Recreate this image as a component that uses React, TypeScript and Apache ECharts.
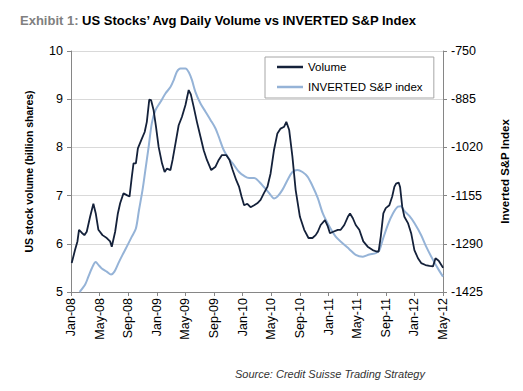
import React, { useEffect, useRef } from "react";
import * as echarts from "echarts";

const xTickLabels = [
  "Jan-08", "May-08", "Sep-08", "Jan-09", "May-09", "Sep-09", "Jan-10",
  "May-10", "Sep-10", "Jan-11", "May-11", "Sep-11", "Jan-12", "May-12",
];

// months since Jan-08
const volMonths = [
  0.1, 0.56, 0.9, 1.12, 1.5, 1.87, 2.2, 2.67, 3.13, 3.46, 3.83, 4.4, 5.0, 5.47, 5.7,
  6.17, 6.55, 6.87, 7.34, 7.8, 8.18, 8.5, 8.74, 9.07, 9.35, 9.82, 10.3, 10.6, 10.94,
  11.2, 11.55, 11.88, 12.25, 12.72, 13.09, 13.42, 13.9, 14.2, 14.6, 15.05, 15.5, 16.0,
  16.45, 16.75, 17.15, 17.6, 18.1, 18.55, 19.0, 19.6, 20.2, 20.65, 21.1, 21.7, 22.16,
  22.6, 23.1, 23.5, 23.84, 24.2, 24.65, 25.1, 25.6, 26.04, 26.5, 26.97, 27.45, 27.9,
  28.37, 28.85, 29.3, 29.8, 30.1, 30.5, 30.95, 31.4, 32.0, 32.6, 33.2, 33.75, 34.2,
  34.5, 34.9, 35.5, 35.9, 36.2, 36.65, 37.3, 37.7, 38.2, 38.7, 39.0, 39.4, 39.8, 40.3,
  40.86, 41.47, 42.17, 42.7, 43.0, 43.3, 43.66, 44.0, 44.5, 44.9, 45.2, 45.44, 45.8,
  46.0, 46.3, 46.6, 47.1, 47.55, 48.0, 48.5, 48.95, 49.55, 50.1, 50.6, 50.95, 51.4,
  51.9, 52.0,
];
const volValues = [
  5.6, 5.87, 6.05, 6.29, 6.23, 6.18, 6.25, 6.56, 6.83, 6.63, 6.29, 6.18, 6.12, 6.05, 5.94,
  6.25, 6.63, 6.84, 7.05, 7.01, 6.98, 7.39, 7.67, 7.67, 7.98, 8.15, 8.32, 8.53, 8.99,
  8.98, 8.77, 8.43, 8.01, 7.67, 7.49, 7.56, 7.53, 7.74, 8.08, 8.46, 8.63, 8.88,
  9.19, 9.1, 8.84, 8.53, 8.22, 7.94, 7.74, 7.53, 7.6, 7.74, 7.84, 7.84, 7.74,
  7.53, 7.32, 7.18, 6.98, 6.8, 6.83, 6.76, 6.8, 6.84, 6.91, 7.05, 7.18, 7.46,
  7.94, 8.29, 8.39, 8.43, 8.53, 8.36, 7.81, 7.12, 6.56, 6.29, 6.12, 6.12, 6.18,
  6.25, 6.39, 6.49, 6.36, 6.22, 6.25, 6.29, 6.29, 6.39, 6.56, 6.63, 6.53, 6.39, 6.29,
  6.05, 5.94, 5.87, 5.84, 5.84, 6.15, 6.63, 6.74, 6.8, 6.98, 7.18, 7.25, 7.27,
  7.18, 6.77, 6.56, 6.43, 6.22, 5.87, 5.7, 5.6, 5.56, 5.54, 5.53, 5.7, 5.65,
  5.53, 5.5,
];

const spxMonths = [
  1.2, 1.96, 2.43, 2.9, 3.46, 3.83, 4.3, 5.0, 5.6, 6.07, 6.63, 7.2, 7.8, 8.5, 9.07, 9.5,
  10.0, 10.4, 10.85, 11.3, 11.8, 12.5, 13.2, 13.9, 14.35, 14.8, 15.3, 16.0, 16.5, 16.9,
  17.4, 18.1, 18.8, 19.5, 20.2, 20.65, 21.36, 22.06, 22.8, 23.5, 24.2, 24.9, 25.6, 26.3,
  26.97, 27.7, 28.4, 28.85, 29.55, 30.25, 30.95, 31.65, 32.36, 33.06, 33.76, 34.5, 35.2,
  36.1, 37.0, 38.0, 38.9, 39.8, 40.8, 41.7, 42.6, 43.1, 43.6, 44.3, 45.0, 45.7, 46.1,
  46.6, 47.3, 48.0, 48.95, 49.65, 50.6, 51.4, 52.0,
];
const spxValues = [
  -1425, -1405, -1382, -1359, -1341, -1349, -1359, -1368, -1376, -1368, -1344, -1321, -1298,
  -1270, -1247, -1196, -1139, -1083, -1019, -952, -916, -893, -869, -851, -832, -808, -799,
  -799, -811, -831, -865, -897, -920, -943, -967, -990, -1028, -1051, -1070, -1089, -1100,
  -1106, -1106, -1116, -1131, -1148, -1163, -1158, -1139, -1112, -1089, -1083, -1089, -1102,
  -1128, -1162, -1205, -1241, -1270, -1289, -1305, -1321, -1326, -1320, -1316, -1308, -1277,
  -1236, -1205, -1186, -1185, -1198, -1212, -1232, -1266, -1298, -1335, -1363, -1382,
];

const FONT = "Liberation Sans";

export default function App() {
  const ref = useRef<HTMLDivElement>(null);
  useEffect(() => {
    if (!ref.current) return;
    const chart = echarts.init(ref.current, undefined, { renderer: "svg" });
    const volData = volMonths.map((m, i) => [m, volValues[i]]);
    const spxData = spxMonths.map((m, i) => [m, spxValues[i]]);
    chart.setOption({
      animation: false,
      backgroundColor: "#ffffff",
      textStyle: { fontFamily: FONT },
      title: {
        left: 15,
        top: 9,
        text: "{g|Exhibit 1: }{b|US Stocks\u2019 Avg Daily Volume vs INVERTED S&P Index}",
        textStyle: {
          rich: {
            g: { fontFamily: FONT, fontSize: 13, fontWeight: "bold", color: "#808080" },
            b: { fontFamily: FONT, fontSize: 13, fontWeight: "bold", color: "#000000" },
          },
        },
      },
      grid: { left: 71, right: 80, top: 51, bottom: 99, containLabel: false },
      legend: {
        orient: "vertical",
        left: 265,
        top: 57,
        padding: [3, 11, 4, 12],
        itemWidth: 26,
        itemHeight: 2.5,
        itemGap: 6,
        itemTextGap: 4,
        borderColor: "#a6a6a6",
        borderWidth: 1,
        backgroundColor: "#ffffff",
        icon: "rect",
        textStyle: { fontFamily: FONT, fontSize: 11.5, color: "#000", lineHeight: 14 },
        data: ["Volume", "INVERTED S&P index"],
      },
      xAxis: {
        type: "value",
        min: 0,
        max: 52,
        interval: 4,
        axisLine: { show: true, lineStyle: { color: "#868686" } },
        axisTick: { show: true, length: 4, lineStyle: { color: "#868686" } },
        splitLine: { show: false },
        axisLabel: {
          rotate: 90,
          margin: 6,
          fontFamily: FONT,
          fontSize: 12.5,
          color: "#000",
          formatter: (v: number) => xTickLabels[Math.round(v / 4)] ?? "",
        },
      },
      yAxis: [
        {
          type: "value",
          min: 5,
          max: 10,
          interval: 1,
          name: "US stock volume (billion shares)",
          nameLocation: "middle",
          nameGap: 37,
          nameRotate: 90,
          nameTextStyle: { fontFamily: FONT, fontSize: 10.5, fontWeight: "bold", color: "#000" },
          axisLine: { show: true, lineStyle: { color: "#868686" } },
          axisTick: { show: true, length: 4, lineStyle: { color: "#868686" } },
          splitLine: { show: true, lineStyle: { color: "#d9d9d9" } },
          axisLabel: {
            margin: 8,
            fontFamily: FONT,
            fontSize: 12.5,
            color: "#000",
            formatter: (v: number) => String(v),
          },
        },
        {
          type: "value",
          min: -1425,
          max: -750,
          interval: 135,
          position: "right",
          name: "Inverted S&P Index",
          nameLocation: "middle",
          nameGap: 56,
          nameRotate: 90,
          nameTextStyle: { fontFamily: FONT, fontSize: 11.5, fontWeight: "bold", color: "#000" },
          axisLine: { show: true, lineStyle: { color: "#868686" } },
          axisTick: { show: true, length: 4, lineStyle: { color: "#868686" } },
          splitLine: { show: false },
          axisLabel: {
            margin: 8,
            fontFamily: FONT,
            fontSize: 12.5,
            color: "#000",
            formatter: (v: number) => String(v),
          },
        },
      ],
      series: [
        {
          name: "Volume",
          type: "line",
          yAxisIndex: 0,
          data: volData,
          showSymbol: false,
          symbol: "none",
          lineStyle: { color: "#14213a", width: 1.8 },
          itemStyle: { color: "#14213a" },
          z: 3,
        },
        {
          name: "INVERTED S&P index",
          type: "line",
          yAxisIndex: 1,
          data: spxData,
          showSymbol: false,
          symbol: "none",
          smooth: 0.3,
          lineStyle: { color: "#95b3d7", width: 2 },
          itemStyle: { color: "#95b3d7" },
          z: 2,
        },
      ],
      graphic: [
        {
          type: "text",
          left: 235,
          top: 368,
          style: {
            text: "Source: Credit Suisse Trading Strategy",
            fontFamily: FONT,
            fontSize: 11,
            fontStyle: "italic",
            fill: "#333333",
          },
        },
      ],
    });
    return () => chart.dispose();
  }, []);
  return <div ref={ref} style={{ width: 523, height: 391, margin: -8 }} />;
}
